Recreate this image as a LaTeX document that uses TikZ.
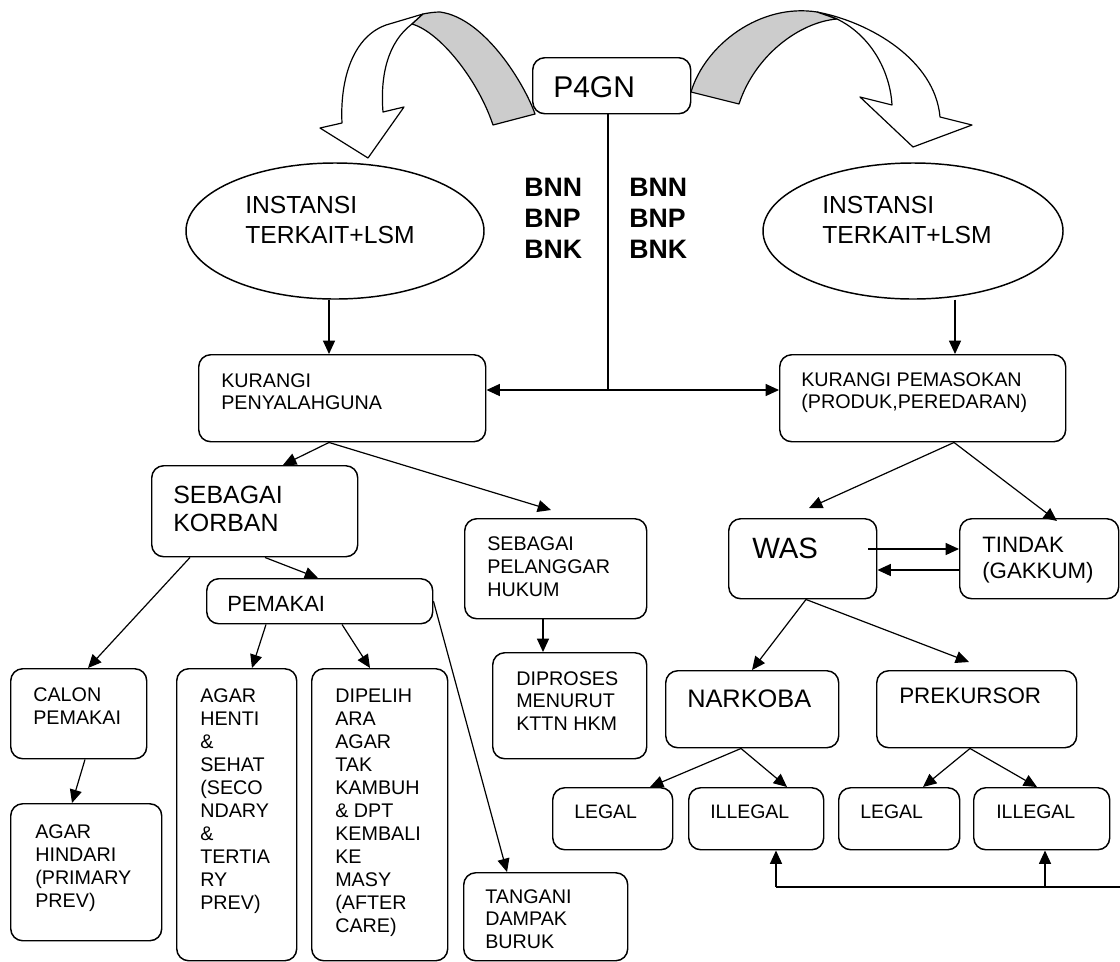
\documentclass[tikz,border=0pt]{standalone}
\usepackage{fontspec}
\setmainfont{Liberation Sans}
\usetikzlibrary{shapes.geometric,arrows.meta,calc}

% one drawing unit = one pixel of a 1120 x 961 canvas
\newlength\pxu
\setlength\pxu{0.75pt}

% left-aligned stack of lines whose baseline is the first line
\newcommand\tlines[2]{\vtop{\baselineskip=#1\relax\lineskiplimit=-\maxdimen\halign{##\hfil\cr#2\crcr}}}

\tikzset{
  rbox/.style={draw, line width=1.1pt, rounded corners=9pt, fill=white, inner sep=0pt, anchor=north west},
  oval/.style={draw, ellipse, line width=1.1pt, fill=white, inner sep=0pt},
  lbl/.style={anchor=base west, inner sep=0pt},
  arr/.style={line width=0.9pt, -{Triangle[length=10pt,width=9pt]}},
  link/.style={line width=0.9pt},
  band/.style={draw, line width=0.9pt, line join=round},
  small/.style={font=\fontsize{14.8pt}{17pt}\selectfont},
}

% rounded box: name, left, top, width, height
\newcommand\mybox[5]{\node[rbox, minimum width=#4\pxu, minimum height=#5\pxu] (#1) at (#2,#3) {};}

\begin{document}
\begin{tikzpicture}[x=0.75pt, y=-0.75pt]
\useasboundingbox (0,0) rectangle (1120,961);

% curved block arrow to the left
\path[band, fill=white] (423,14) -- (386,25) .. controls (350,38) and (340,85) .. (342,123)
  -- (320,128) -- (368,158) -- (404,107) -- (383,112)
  .. controls (380,75) and (388,42) .. (412,24) -- cycle;
\path[band, fill=black!20] (493,125) -- (535,114) .. controls (525,85) and (485,18) .. (440,12)
  .. controls (434,12) and (428,13) .. (423,14) -- (412,24)
  .. controls (440,32) and (478,80) .. (493,125) -- cycle;

% curved block arrow to the right
\path[band, fill=white] (817,12) .. controls (870,22) and (935,60) .. (940,117)
  -- (972,125) -- (913,147) -- (860,97) -- (892,105)
  .. controls (890,70) and (870,35) .. (837,19) -- cycle;
\path[band, fill=black!20] (691,92) .. controls (705,45) and (760,3) .. (817,12)
  -- (837,19) .. controls (800,22) and (755,55) .. (739,104) -- cycle;

% boxes
\mybox{p4gn}{532}{57}{158}{56}
\node[oval, minimum width=298\pxu, minimum height=136\pxu] (ellL) at (335,231) {};
\node[oval, minimum width=300\pxu, minimum height=136\pxu] (ellR) at (913,231) {};
\mybox{peny}{198}{354}{287}{87}
\mybox{pemasok}{779}{354}{286}{87}
\mybox{korban}{151}{465}{206}{91}
\mybox{pelanggar}{464}{518}{182}{100}
\mybox{diproses}{492}{652}{154}{106}
\mybox{pemakai}{206}{578}{226}{45}
\mybox{calon}{10}{668}{136}{90}
\mybox{hindari}{10}{803}{151}{137}
\mybox{henti}{176}{668}{120}{292}
\mybox{pelihara}{311}{668}{136}{292}
\mybox{tangani}{463}{872}{164}{88}
\mybox{was}{728}{518}{148}{80}
\mybox{tindak}{959}{518}{159}{80}
\mybox{narkoba}{665}{670}{173}{77}
\mybox{prekursor}{876}{670}{200}{77}
\mybox{legalA}{552}{787}{120}{62}
\mybox{illegalA}{688}{787}{135}{62}
\mybox{legalB}{838}{787}{121}{62}
\mybox{illegalB}{973}{787}{136}{62}

% texts
\node[lbl, font=\fontsize{22.5pt}{27pt}\selectfont] (p4gn-t) at (553,97) {P4GN};
\node[lbl, font=\fontsize{18.5pt}{22.5pt}\selectfont] (ellL-t) at (245,213) {\tlines{22.5pt}{INSTANSI\cr TERKAIT+LSM}};
\node[lbl, font=\fontsize{18.5pt}{22.5pt}\selectfont] (ellR-t) at (822,213) {\tlines{22.5pt}{INSTANSI\cr TERKAIT+LSM}};
\node[lbl, font=\bfseries\fontsize{20pt}{24pt}\selectfont] (bnnL) at (524,196) {\tlines{23.25pt}{BNN\cr BNP\cr BNK}};
\node[lbl, font=\bfseries\fontsize{20pt}{24pt}\selectfont] (bnnR) at (629,196) {\tlines{23.25pt}{BNN\cr BNP\cr BNK}};
\node[lbl, small] (peny-t) at (221,387) {\tlines{16.7pt}{KURANGI\cr PENYALAHGUNA}};
\node[lbl, small] (pemasok-t) at (801,386) {\tlines{17pt}{KURANGI PEMASOKAN\cr (PRODUK,PEREDARAN)}};
\node[lbl, font=\fontsize{18.7pt}{21pt}\selectfont] (korban-t) at (173,503) {\tlines{21pt}{SEBAGAI\cr KORBAN}};
\node[lbl, font=\fontsize{16.5pt}{20pt}\selectfont] (pemakai-t) at (227,611) {PEMAKAI};
\node[lbl, small] (calon-t) at (33,701) {\tlines{17.25pt}{CALON\cr PEMAKAI}};
\node[lbl, small] (hindari-t) at (35,838) {\tlines{17.25pt}{AGAR\cr HINDARI\cr (PRIMARY\cr PREV)}};
\node[lbl, small] (henti-t) at (200,702) {\tlines{17.25pt}{AGAR\cr HENTI\cr \&\cr SEHAT\cr (SECO\cr NDARY\cr \&\cr TERTIA\cr RY\cr PREV)}};
\node[lbl, small] (pelihara-t) at (335,702) {\tlines{17.25pt}{DIPELIH\cr ARA\cr AGAR\cr TAK\cr KAMBUH\cr \& DPT\cr KEMBALI\cr KE\cr MASY\cr (AFTER\cr CARE)}};
\node[lbl, small] (pelanggar-t) at (487,550) {\tlines{17.5pt}{SEBAGAI\cr PELANGGAR\cr HUKUM}};
\node[lbl, small] (diproses-t) at (516,685) {\tlines{17pt}{DIPROSES\cr MENURUT\cr KTTN HKM}};
\node[lbl, small] (tangani-t) at (485,903) {\tlines{17pt}{TANGANI\cr DAMPAK\cr BURUK}};
\node[lbl, font=\fontsize{22pt}{26pt}\selectfont] (was-t) at (752,558) {WAS};
\node[lbl, font=\fontsize{16.7pt}{19.5pt}\selectfont] (tindak-t) at (982,552) {\tlines{19.5pt}{TINDAK\cr (GAKKUM)}};
\node[lbl, font=\fontsize{19pt}{23pt}\selectfont] (narkoba-t) at (687,707) {NARKOBA};
\node[lbl, font=\fontsize{16.8pt}{20pt}\selectfont] (prekursor-t) at (899,703) {PREKURSOR};
\node[lbl, font=\fontsize{14.6pt}{17pt}\selectfont] (legalA-t) at (574,818) {LEGAL};
\node[lbl, font=\fontsize{14.6pt}{17pt}\selectfont] (illegalA-t) at (710,818) {ILLEGAL};
\node[lbl, font=\fontsize{14.6pt}{17pt}\selectfont] (legalB-t) at (860,818) {LEGAL};
\node[lbl, font=\fontsize{14.6pt}{17pt}\selectfont] (illegalB-t) at (996,818) {ILLEGAL};

% P4GN branches to both reduction boxes
\coordinate (hub) at (608,390);
\draw[link] (p4gn.south -| hub) -- (hub);
\draw[arr] (hub) -- (hub -| peny.east);
\draw[arr] (hub) -- (hub -| pemasok.west);

% left tree
\draw[arr] (ellL.south -| 329,0) -- (peny.north -| 329,0);
\draw[arr] (peny.south -| 329,0) -- (korban.north -| 283,0);
\draw[arr] (peny.south -| 329,0) -- ($(pelanggar.north -| 551,0)+(0,-8)$);
\draw[arr] (korban.south -| 190,0) -- (calon.north -| 88,0);
\draw[arr] (korban.south -| 265,0) -- (pemakai.north -| 318,0);
\draw[arr] (pemakai.south -| 266,0) -- (henti.north -| 252,0);
\draw[arr] (pemakai.south -| 342,0) -- (pelihara.north -| 370,0);
\draw[arr] (pemakai.east) -- (tangani.north -| 507,0);
\draw[arr] (calon.south -| 85,0) -- (hindari.north -| 72,0);
\draw[arr] (pelanggar.south -| 543,0) -- (diproses.north -| 543,0);

% right tree
\draw[arr] (ellR.south -| 955,0) -- (pemasok.north -| 955,0);
\draw[arr] (pemasok.south -| 954,0) -- ($(was.north -| 809,0)+(0,-10)$);
\draw[arr] (pemasok.south -| 954,0) -- ($(tindak.north -| 1057,0)+(0,3)$);
\draw[arr] ($(was.east |- 0,549)+(-9,0)$) -- (tindak.west |- 0,549);
\draw[arr] (tindak.west |- 0,570) -- (was.east |- 0,570);
\draw[arr] (was.south -| 806,0) -- (narkoba.north -| 752,0);
\draw[arr] (was.south -| 806,0) -- ($(prekursor.north -| 969,0)+(0,-8)$);
\draw[arr] (narkoba.south -| 741,0) -- (legalA.north -| 650,0);
\draw[arr] (narkoba.south -| 741,0) -- (illegalA.north -| 787,0);
\draw[arr] (prekursor.south -| 970,0) -- (legalB.north -| 923,0);
\draw[arr] (prekursor.south -| 970,0) -- (illegalB.north -| 1037,0);

% feed line under the illegal boxes
\coordinate (busL) at (776,887);
\coordinate (busM) at (1045,887);
\coordinate (busR) at (1120,887);
\draw[link] (busL) -- (busR);
\draw[arr] (busL) -- (illegalA.south -| busL);
\draw[arr] (busM) -- (illegalB.south -| busM);
\end{tikzpicture}
\end{document}
